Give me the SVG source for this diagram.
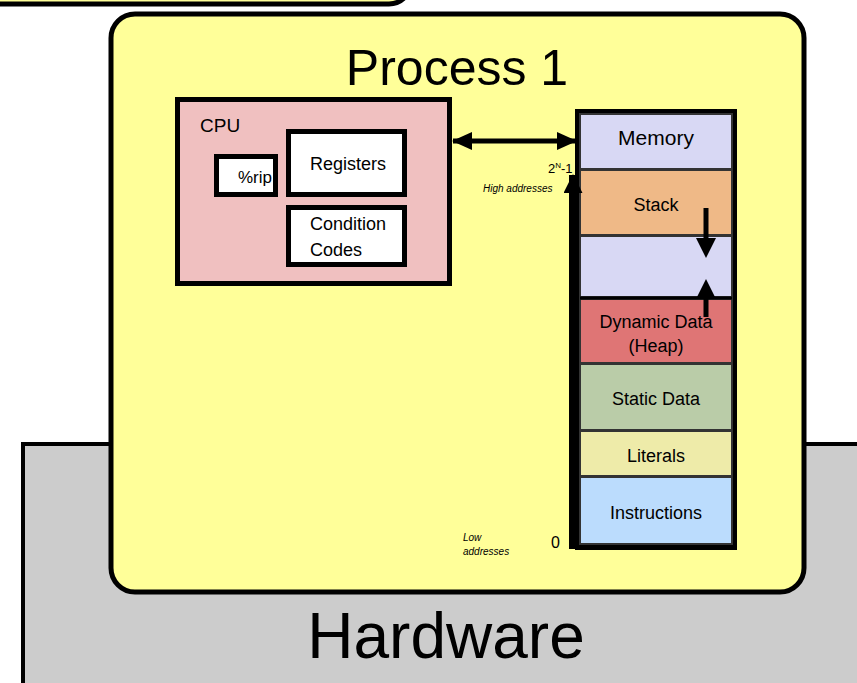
<svg xmlns="http://www.w3.org/2000/svg" width="857" height="683" viewBox="0 0 857 683">
<defs>
<style>
text{font-family:"Liberation Sans",Arial,sans-serif;fill:#000}
.box{stroke:#000;stroke-width:5}
.cell{stroke:#333;stroke-width:2}
.c{text-anchor:middle}
.it{font-style:italic;font-size:10px}
.head{fill:#000;stroke:none}
</style>
<marker id="ah" viewBox="0 0 20 20" refX="19" refY="10" markerWidth="20" markerHeight="20" orient="auto-start-reverse" markerUnits="userSpaceOnUse">
<path d="M0,1 L20,10 L0,19 z" fill="#000"/>
</marker>
<marker id="ahs" viewBox="0 0 20 20" refX="19" refY="10" markerWidth="19" markerHeight="19" orient="auto" markerUnits="userSpaceOnUse">
<path d="M0,0 L20,10 L0,20 z" fill="#000"/>
</marker>
<clipPath id="ripclip"><rect x="214" y="154" width="62" height="43"/></clipPath>
</defs>
<g id="top-box"><rect x="-40" y="-60" width="451" height="64" rx="22" fill="#ffff99" class="box"/></g>
<g id="hardware">
<rect x="23" y="444" width="900" height="300" fill="#cccccc" stroke="#000" stroke-width="4"/>
<text x="446" y="658" class="c" font-size="64">Hardware</text>
</g>
<g id="process">
<rect x="111" y="14" width="693" height="578" rx="24" fill="#ffff99" class="box"/>
<text x="457" y="85" class="c" font-size="50">Process 1</text>
</g>
<g id="cpu">
<rect x="177.5" y="99.5" width="272" height="184" fill="#f0c0c0" class="box"/>
<text x="200" y="132" font-size="19">CPU</text>
</g>
<g id="rip">
<rect x="216.5" y="156.5" width="59" height="38" fill="#fff"/>
<text x="238" y="183" font-size="17" clip-path="url(#ripclip)">%rip</text>
<rect x="216.5" y="156.5" width="59" height="38" fill="none" class="box"/>
</g>
<g id="registers">
<rect x="288.5" y="131.5" width="116" height="63" fill="#fff" class="box"/>
<text x="310" y="170" font-size="18">Registers</text>
</g>
<g id="condition-codes">
<rect x="288.5" y="207.5" width="116" height="57" fill="#fff" class="box"/>
<text x="310" y="230" font-size="18">Condition</text>
<text x="310" y="256" font-size="18">Codes</text>
</g>
<g id="memory">
<rect x="577.5" y="111.5" width="157" height="436" fill="#000" class="box"/>
<rect x="580" y="114" width="152" height="55" fill="#d8d8f4" class="cell"/>
<text x="656" y="145" class="c" font-size="21">Memory</text>
<rect x="580" y="170" width="152" height="65" fill="#efb987" class="cell"/>
<text x="656" y="211" class="c" font-size="18">Stack</text>
<rect x="580" y="236" width="152" height="61" fill="#d8d8f4" class="cell"/>
<rect x="580" y="299" width="152" height="64" fill="#df7575" class="cell"/>
<text x="656" y="328" class="c" font-size="18">Dynamic Data</text>
<text x="656" y="352" class="c" font-size="18">(Heap)</text>
<rect x="580" y="364" width="152" height="66" fill="#bacca8" class="cell"/>
<text x="656" y="405" class="c" font-size="18">Static Data</text>
<rect x="580" y="431" width="152" height="45" fill="#eeeba9" class="cell"/>
<text x="656" y="462" class="c" font-size="18">Literals</text>
<rect x="580" y="477" width="152" height="67" fill="#bbdcfd" class="cell"/>
<text x="656" y="519" class="c" font-size="18">Instructions</text>
<line x1="580" y1="298" x2="732" y2="298" stroke="#000" stroke-width="3"/>
</g>
<g id="labels">
<text x="548" y="173" font-size="13">2<tspan font-size="8" dy="-5">N</tspan><tspan dy="5">-1</tspan></text>
<text x="483" y="192" class="it">High addresses</text>
<text x="463" y="541" class="it">Low</text>
<text x="463" y="555" class="it">addresses</text>
<text x="551" y="548" font-size="16">0</text>
</g>
<g id="connectors" stroke="#000" fill="none">
<line x1="453" y1="141" x2="576" y2="141" stroke-width="5" marker-start="url(#ah)" marker-end="url(#ah)"/>
<line x1="573" y1="549" x2="573" y2="175" stroke-width="8" marker-end="url(#ahs)"/>
<line x1="706" y1="208" x2="706" y2="242" stroke-width="5"/>
<path class="head" d="M696,238 L716,238 L706,258 z"/>
<line x1="706" y1="296" x2="706" y2="317" stroke-width="5"/>
<path class="head" d="M696,299 L716,299 L706,279 z"/>
</g>
</svg>
